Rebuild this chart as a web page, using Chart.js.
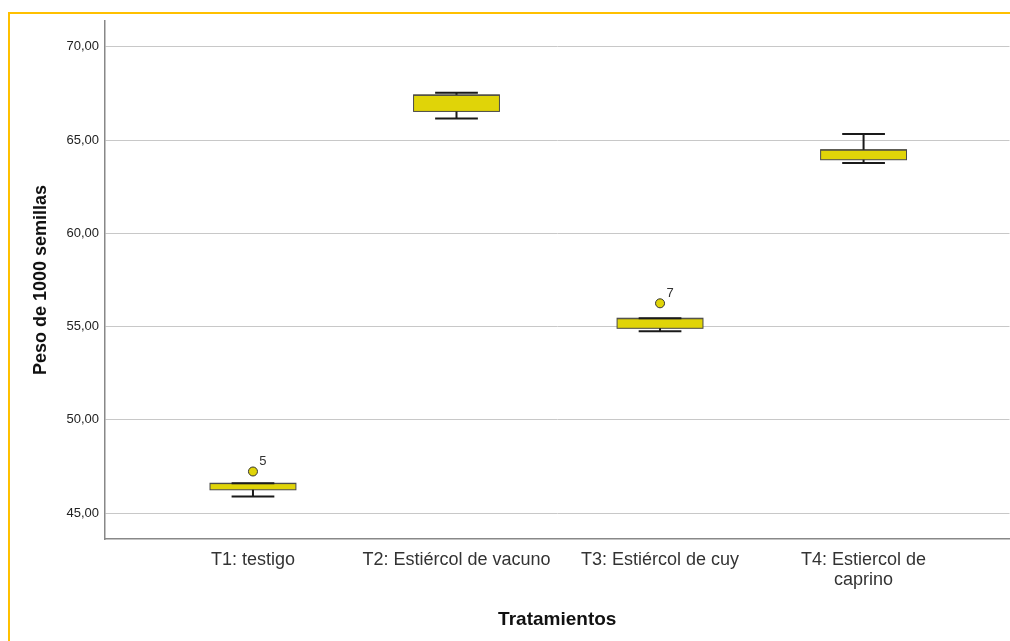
<!DOCTYPE html>
<html>
<head>
<meta charset="utf-8">
<script src="https://cdn.jsdelivr.net/npm/chart.js@4"></script>
<style>
  body { margin: 0; background: #fff; overflow: hidden; }
  #frame { position: absolute; left: 8px; top: 12px; width: 1200px; height: 800px; border: 2px solid #ffc000; }
  #chart1 { position: absolute; left: 0; top: 0; }
</style>
</head>
<body>
<div id="frame"></div>
<canvas id="chart1" width="1015" height="641"></canvas>
<script>
// treatments and box statistics (peso de 1000 semillas, g)
let categories = ['T1: testigo', 'T2: Estiércol de vacuno', 'T3: Estiércol de cuy', ['T4: Estiercol de', 'caprino']];
let whiskerLow = [45.89, 66.16, 54.75, 63.78];
let q1 = [46.25, 66.54, 54.91, 63.95];
let median = [46.58, 67.40, 55.42, 64.46];
let q3 = [46.60, 67.43, 55.45, 64.49];
let whiskerHigh = [46.60, 67.54, 55.45, 65.33];
let outlierValue = [47.23, null, 56.25, null];
let outlierCase = ['5', null, '7', null];
let yTicks = [45, 50, 55, 60, 65, 70];

let fontFamily = '"Liberation Sans", Arial, sans-serif';
let boxColor = '#e0d408';

// draws boxes and whiskers on the linear x/y scales
let boxPlot = {
    id: 'boxPlot',
    beforeDatasetsDraw(chart) {
        let ctx = chart.ctx, x = chart.scales.x, y = chart.scales.y;
        let unit = x.getPixelForValue(2) - x.getPixelForValue(1);
        let halfBox = unit * 0.211, halfCap = unit * 0.105;
        ctx.save();
        for (let i = 0; i < categories.length; i++) {
            let cx = x.getPixelForValue(i + 1);
            let top = y.getPixelForValue(q3[i]), bottom = y.getPixelForValue(q1[i]);
            ctx.fillStyle = boxColor;
            ctx.fillRect(cx - halfBox, top, halfBox * 2, bottom - top);
            ctx.strokeStyle = '#4a4a4a';
            ctx.lineWidth = 1;
            ctx.strokeRect(cx - halfBox, top, halfBox * 2, bottom - top);
            ctx.beginPath();
            let m = y.getPixelForValue(median[i]);
            ctx.moveTo(cx - halfBox, m);
            ctx.lineTo(cx + halfBox, m);
            ctx.stroke();

            ctx.strokeStyle = '#1a1a1a';
            ctx.lineWidth = 2;
            let lo = y.getPixelForValue(whiskerLow[i]), hi = y.getPixelForValue(whiskerHigh[i]);
            ctx.beginPath();
            ctx.moveTo(cx, bottom); ctx.lineTo(cx, lo);
            ctx.moveTo(cx, top); ctx.lineTo(cx, hi);
            ctx.moveTo(cx - halfCap, lo); ctx.lineTo(cx + halfCap, lo);
            ctx.moveTo(cx - halfCap, hi); ctx.lineTo(cx + halfCap, hi);
            ctx.stroke();
        }
        ctx.restore();
    },
    afterDatasetsDraw(chart) {
        let ctx = chart.ctx, x = chart.scales.x, y = chart.scales.y;
        ctx.save();
        ctx.fillStyle = '#333';
        ctx.font = '13px ' + fontFamily;
        ctx.textAlign = 'center';
        ctx.textBaseline = 'middle';
        for (let i = 0; i < outlierCase.length; i++) {
            if (outlierValue[i] == null) continue;
            ctx.fillText(outlierCase[i], x.getPixelForValue(i + 1) + 10, y.getPixelForValue(outlierValue[i]) - 10);
        }
        ctx.restore();
    }
};

window.onload = function () {

    let chart1 = document.getElementById('chart1').getContext('2d');

    let outliers = [];
    outlierValue.forEach(function (v, i) {
        if (v != null) outliers.push({x: i + 1, y: v});
    });

    new Chart(chart1, {
        type: 'scatter',
        data: {
            datasets: [{
                label: 'Atípicos',
                data: outliers,
                backgroundColor: boxColor,
                borderColor: '#333',
                borderWidth: 1,
                pointRadius: 4.5
            }]
        },
        options: {
            responsive: false,
            animation: false,
            layout: {padding: {top: 21, right: 0, bottom: 0, left: 0}},
            plugins: {legend: {display: false}, tooltip: {enabled: false}},
            scales: {
                x: {
                    type: 'linear',
                    min: 0.273,
                    max: 4.717,
                    afterBuildTicks: function (s) { s.ticks = categories.map(function (c, i) { return {value: i + 1}; }); },
                    afterFit: function (s) { s.height = 102; },
                    ticks: {
                        callback: function (v) { return categories[Math.round(v) - 1]; },
                        font: {family: fontFamily, size: 18, lineHeight: 1.12},
                        color: '#333',
                        padding: 11,
                        maxRotation: 0,
                        autoSkip: false
                    },
                    grid: {display: false, drawTicks: false},
                    border: {color: '#888', width: 1.5},
                    title: {
                        display: true,
                        text: 'Tratamientos',
                        font: {family: fontFamily, size: 19, weight: 'bold'},
                        color: '#111',
                        padding: {top: 0, bottom: 10}
                    }
                },
                y: {
                    min: 43.61,
                    max: 71.39,
                    afterBuildTicks: function (s) { s.ticks = yTicks.map(function (v) { return {value: v}; }); },
                    afterFit: function (s) { s.width = 105; },
                    ticks: {
                        callback: function (v) { return v.toFixed(2).replace('.', ','); },
                        font: {family: fontFamily, size: 13},
                        color: '#222',
                        padding: 6
                    },
                    grid: {color: '#c8c8c8', drawTicks: false},
                    border: {color: '#888', width: 1.5},
                    title: {
                        display: true,
                        text: 'Peso de 1000 semillas',
                        font: {family: fontFamily, size: 18, weight: 'bold'},
                        color: '#111',
                        padding: {top: 30, bottom: 0}
                    }
                }
            }
        },
        plugins: [boxPlot]
    });
}
</script>
</body>
</html>
